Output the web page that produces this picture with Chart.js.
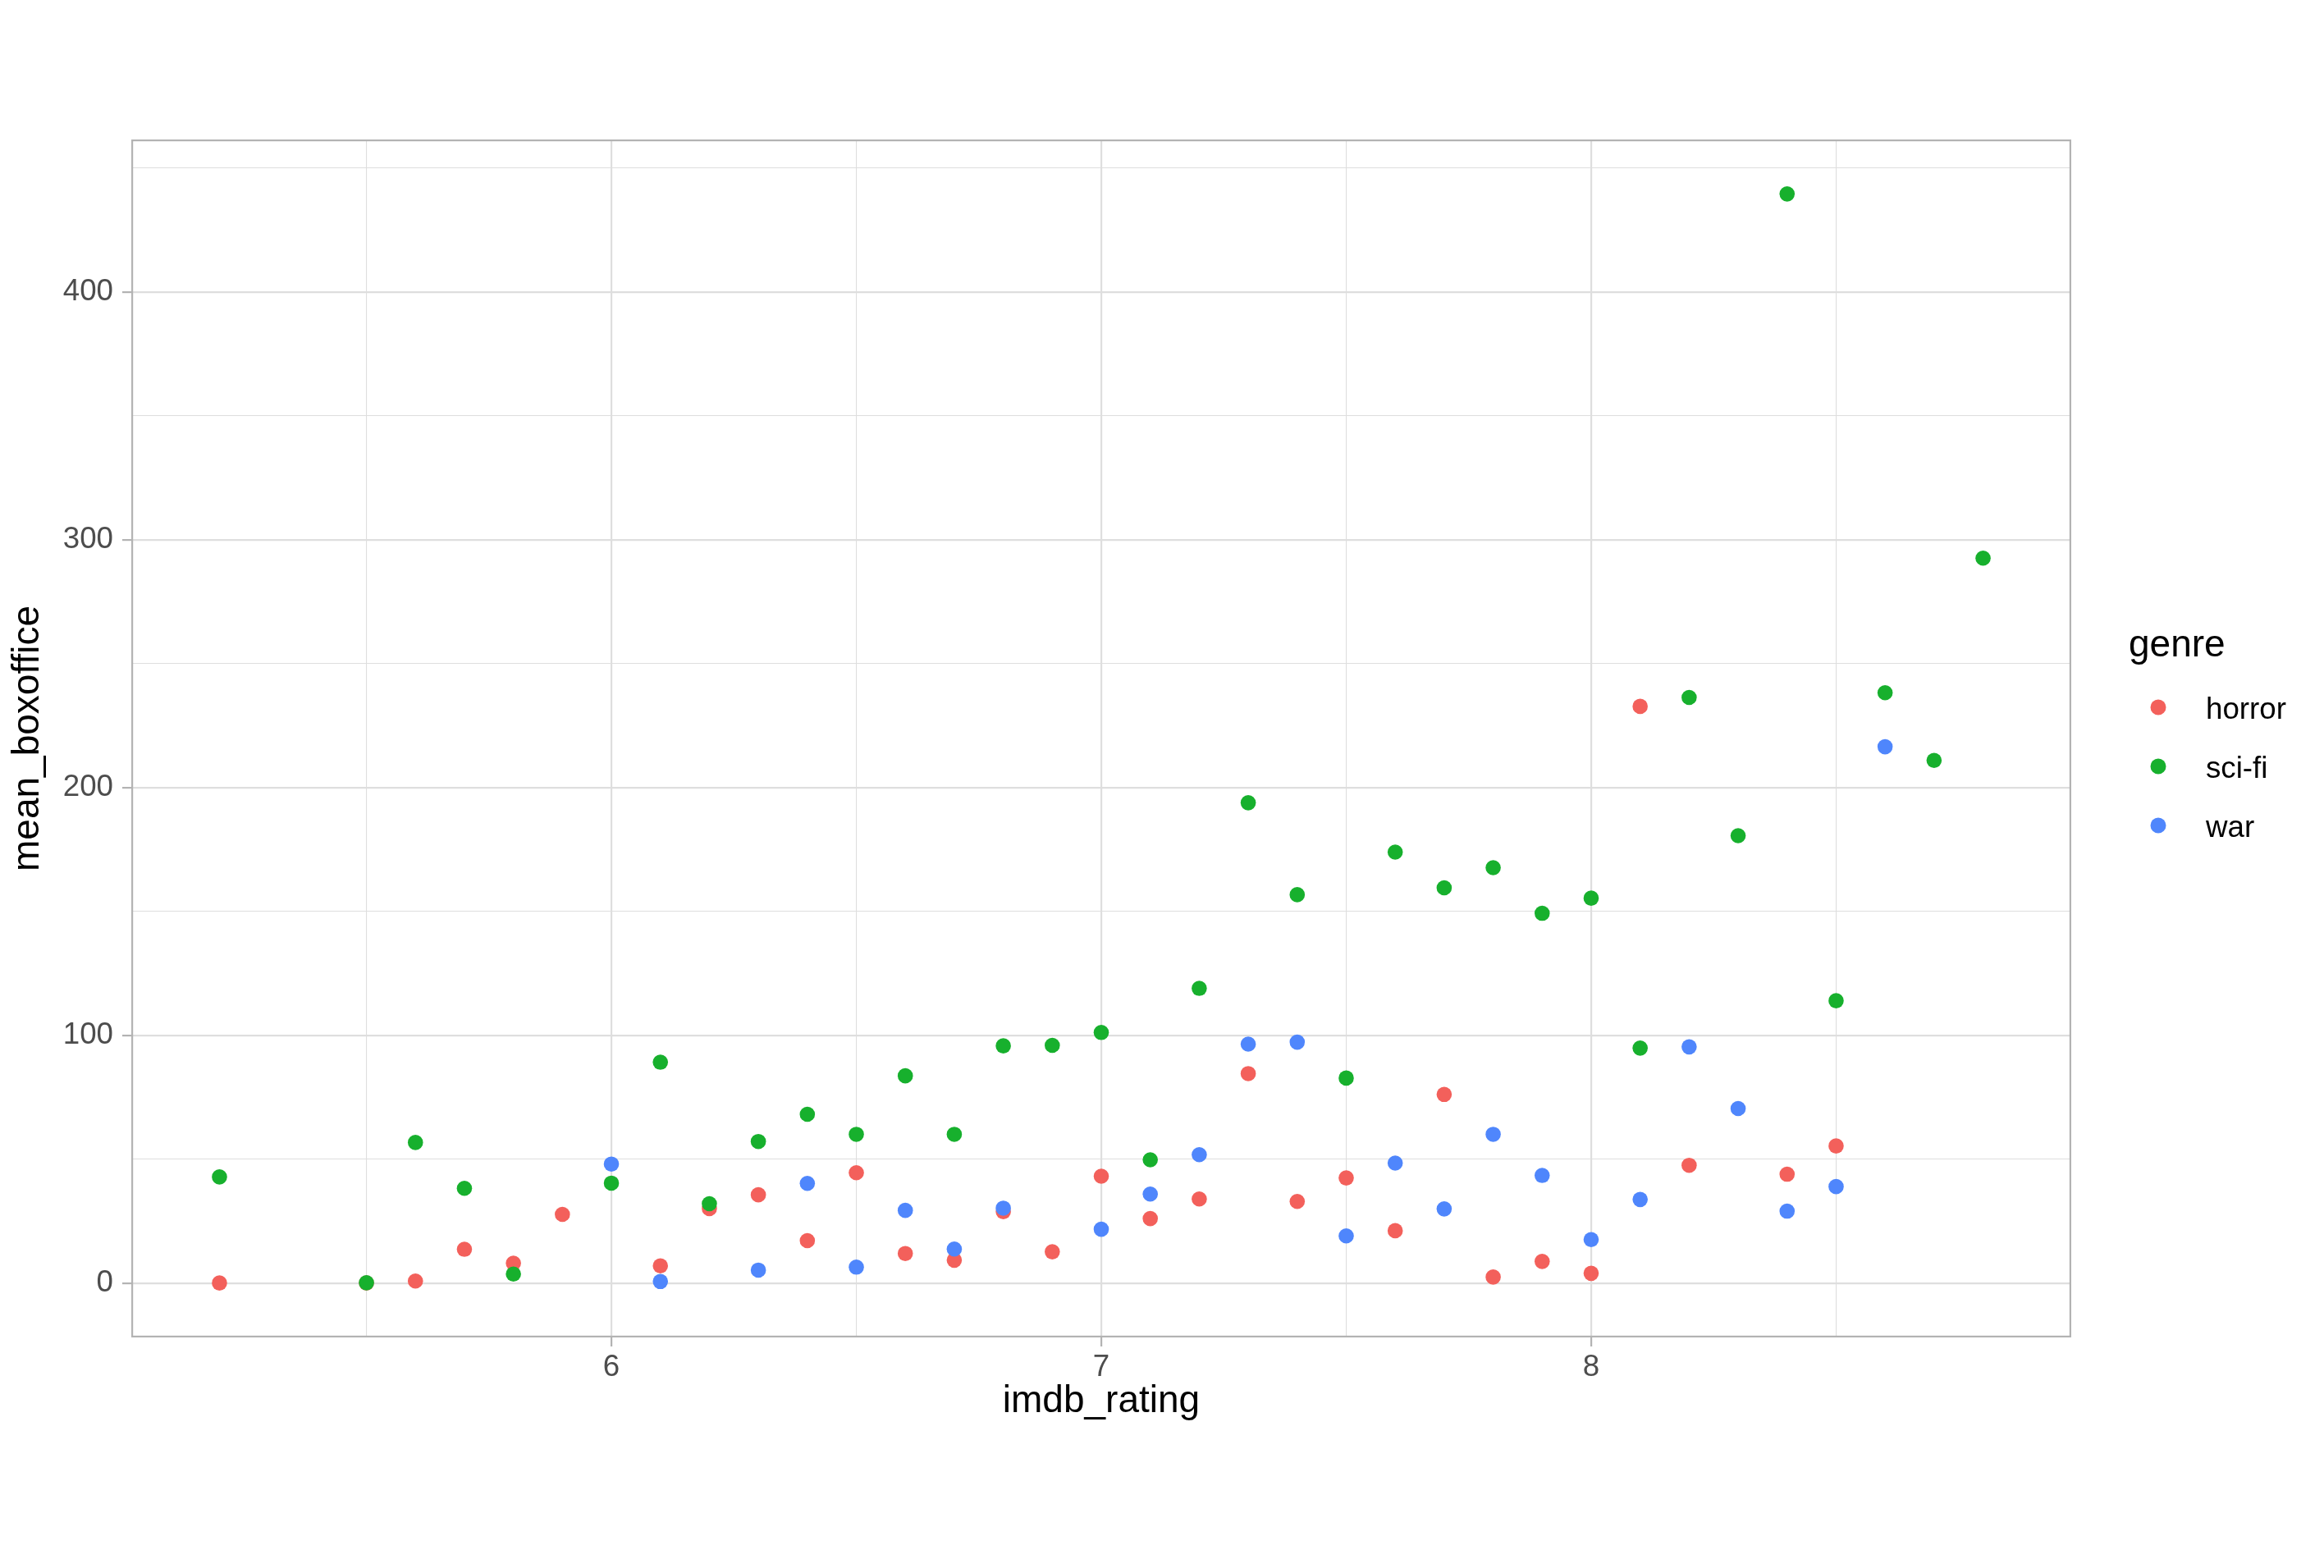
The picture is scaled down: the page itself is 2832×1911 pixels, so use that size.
<!DOCTYPE html>
<html>
<head>
<meta charset="utf-8">
<script src="https://cdn.jsdelivr.net/npm/chart.js@4.4.1/dist/chart.umd.min.js"></script>
<style>
  html, body { margin: 0; padding: 0; background: #ffffff; }
  canvas { display: block; }
</style>
</head>
<body>
<canvas id="chart" width="2832" height="1911"></canvas>
<script>
// Data
const genres = ["horror", "sci-fi", "war"];
const genreColors = ["#F3605B", "#17B02D", "#4F86FC"];

const horrorRating = [5.2,5.5,5.6,5.7,5.8,5.9,6.1,6.2,6.3,6.4,6.5,6.6,6.7,6.8,6.9,7.0,7.1,7.2,7.3,7.4,7.5,7.6,7.7,7.8,7.9,8.0,8.1,8.2,8.4,8.5];
const horrorBox    = [0.1,0.1,0.9,13.7,8.1,27.8,7.0,30.1,35.7,17.2,44.6,12.0,9.3,28.9,12.7,43.2,26.1,34.0,84.6,33.0,42.5,21.2,76.2,2.5,8.8,4.0,232.8,47.6,44.0,55.4];

const scifiRating = [5.2,5.5,5.6,5.7,5.8,6.0,6.1,6.2,6.3,6.4,6.5,6.6,6.7,6.8,6.9,7.0,7.1,7.2,7.3,7.4,7.5,7.6,7.7,7.8,7.9,8.0,8.1,8.2,8.3,8.4,8.5,8.6,8.7,8.8];
const scifiBox    = [42.9,0.2,56.8,38.3,3.7,40.4,89.2,32.1,57.2,68.2,60.1,83.7,60.1,95.8,96.0,101.2,49.8,119.0,193.9,156.8,82.8,174.0,159.6,167.7,149.3,155.4,94.9,236.4,180.6,439.6,114.0,238.3,211.0,292.6];

const warRating = [6.0,6.1,6.3,6.4,6.5,6.6,6.7,6.8,7.0,7.1,7.2,7.3,7.4,7.5,7.6,7.7,7.8,7.9,8.0,8.1,8.2,8.3,8.4,8.5,8.6];
const warBox    = [48.1,0.7,5.3,40.3,6.5,29.4,13.8,30.3,21.8,36.0,51.9,96.5,97.3,19.1,48.5,30.0,60.1,43.5,17.6,33.8,95.4,70.5,29.1,39.0,216.5];

const xMajorTicks = [6, 7, 8];
const xMinorTicks = [5.5, 6.5, 7.5, 8.5];
const yMajorTicks = [0, 100, 200, 300, 400];
const yMinorTicks = [50, 150, 250, 350, 450];

const FONT = "'Liberation Sans', Arial, Helvetica, sans-serif";

function toPoints(xs, ys){ return xs.map((x,i)=>({x:x, y:ys[i]})); }

// ggplot style 5% expansion of the data range
function expand(vals){
    const lo = Math.min(...vals), hi = Math.max(...vals);
    const pad = (hi - lo) * 0.05;
    return [lo - pad, hi + pad];
}
const xLim = expand([...horrorRating, ...scifiRating, ...warRating]);
const yLim = expand([...horrorBox, ...scifiBox, ...warBox]);

function buildTicks(majors, minors){
    return [...minors.map(v=>({value:v, minor:true})), ...majors.map(v=>({value:v, minor:false}))]
        .sort((a,b)=>a.value-b.value);
}
const isMinor = ctx => ctx.tick && ctx.tick.minor;

// panel border, clipped to the panel like ggplot does
const panelBorder = {
    id: "panelBorder",
    afterDatasetsDraw(chart){
        const {ctx, chartArea:a} = chart;
        ctx.save();
        ctx.strokeStyle = "#B3B3B3";
        ctx.lineWidth = 2.2;
        ctx.strokeRect(a.left + 1.1, a.top + 1.1, a.right - a.left - 2.2, a.bottom - a.top - 2.2);
        ctx.restore();
    }
};

// legend on the right: title + coloured dots
const sideLegend = {
    id: "sideLegend",
    afterDraw(chart){
        const ctx = chart.ctx;
        ctx.save();
        ctx.fillStyle = "#000000";
        ctx.textBaseline = "alphabetic";
        ctx.textAlign = "left";
        ctx.font = "46px " + FONT;
        ctx.fillText("genre", 2594, 800);
        ctx.font = "36.7px " + FONT;
        genres.forEach((g,i)=>{
            const cy = 862 + i*72;
            ctx.beginPath();
            ctx.arc(2630, cy, 9.5, 0, Math.PI*2);
            ctx.fillStyle = genreColors[i];
            ctx.fill();
            ctx.fillStyle = "#000000";
            ctx.fillText(g, 2688, cy + 13.8);
        });
        ctx.restore();
    }
};

const seriesX = [horrorRating, scifiRating, warRating];
const seriesY = [horrorBox, scifiBox, warBox];

const ctx = document.getElementById("chart").getContext("2d");
new Chart(ctx,{
    type:"scatter",
    data:{
        datasets: genres.map((g,i)=>({
            label:g,
            data:toPoints(seriesX[i], seriesY[i]),
            backgroundColor:genreColors[i],
            borderWidth:0,
            pointRadius:9.3,
            pointHoverRadius:9.3,
            order:genres.length - 1 - i
        }))
    },
    options:{
        responsive:false,
        devicePixelRatio:1,
        animation:false,
        events:[],
        layout:{padding:{left:0, top:170, right:308, bottom:0}},
        plugins:{legend:{display:false}, tooltip:{enabled:false}},
        scales:{
            x:{
                type:"linear",
                min:xLim[0], max:xLim[1],
                afterBuildTicks: s => { s.ticks = buildTicks(xMajorTicks, xMinorTicks); },
                afterFit: s => { s.height = 281; },
                border:{display:false},
                grid:{
                    color:"#DEDEDE",
                    lineWidth: c => isMinor(c) ? 1.1 : 2.2,
                    drawTicks:true,
                    tickLength:11,
                    tickColor: c => isMinor(c) ? "rgba(0,0,0,0)" : "#B3B3B3",
                    tickWidth:2.2
                },
                ticks:{
                    autoSkip:false,
                    maxRotation:0,
                    padding:8,
                    color:"#4D4D4D",
                    font:{family:FONT, size:36.7, lineHeight:1},
                    callback:(v, i, ticks)=> ticks[i].minor ? "" : String(v)
                },
                title:{
                    display:true,
                    text:"imdb_rating",
                    color:"#000000",
                    font:{family:FONT, size:46, lineHeight:1},
                    padding:{top:0, bottom:180}
                }
            },
            y:{
                type:"linear",
                min:yLim[0], max:yLim[1],
                afterBuildTicks: s => { s.ticks = buildTicks(yMajorTicks, yMinorTicks); },
                afterFit: s => { s.width = 160; },
                border:{display:false},
                grid:{
                    color:"#DEDEDE",
                    lineWidth: c => isMinor(c) ? 1.1 : 2.2,
                    drawTicks:true,
                    tickLength:11,
                    tickColor: c => isMinor(c) ? "rgba(0,0,0,0)" : "#B3B3B3",
                    tickWidth:2.2
                },
                ticks:{
                    autoSkip:false,
                    padding:11,
                    color:"#4D4D4D",
                    font:{family:FONT, size:36.7, lineHeight:1},
                    callback:(v, i, ticks)=> ticks[i].minor ? "" : String(v)
                },
                title:{
                    display:true,
                    text:"mean_boxoffice",
                    color:"#000000",
                    font:{family:FONT, size:46, lineHeight:1},
                    padding:{top:11, bottom:0}
                }
            }
        }
    },
    plugins:[panelBorder, sideLegend]
});
</script>
</body>
</html>
